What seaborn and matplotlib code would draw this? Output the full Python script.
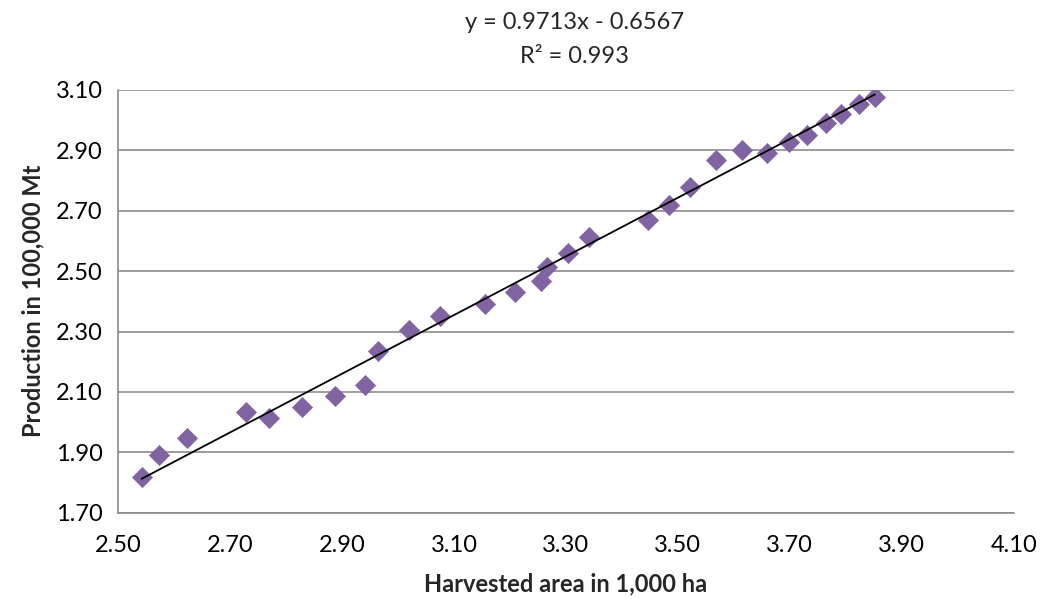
import numpy as np
import pandas as pd
import matplotlib
matplotlib.use("Agg")
import matplotlib.pyplot as plt
import seaborn as sns

# harvested area (1,000 ha) and production (100,000 Mt)
area = [2.542, 2.573, 2.624, 2.728, 2.770, 2.828, 2.888, 2.942, 2.965, 3.020,
        3.075, 3.155, 3.210, 3.255, 3.267, 3.304, 3.342, 3.447, 3.485, 3.521,
        3.568, 3.615, 3.660, 3.698, 3.731, 3.764, 3.791, 3.824, 3.852]
production = [1.819, 1.891, 1.948, 2.034, 2.013, 2.051, 2.086, 2.123, 2.235, 2.305,
              2.351, 2.390, 2.430, 2.467, 2.515, 2.561, 2.614, 2.669, 2.719, 2.779,
              2.868, 2.901, 2.890, 2.928, 2.951, 2.989, 3.019, 3.053, 3.077]

slope = 0.9713
intercept = -0.6567
r_squared = 0.993

x_ticks = [2.50, 2.70, 2.90, 3.10, 3.30, 3.50, 3.70, 3.90, 4.10]
y_ticks = [1.70, 1.90, 2.10, 2.30, 2.50, 2.70, 2.90, 3.10]

df = pd.DataFrame({"area": area, "production": production})
fit = pd.DataFrame({"area": [min(area), max(area)]})
fit["production"] = slope * fit["area"] + intercept

sns.set_style("white")
plt.rcParams['font.family'] = ['Lato', 'DejaVu Sans']

grid_col = "#8c8c8c"
fs = 17
fig = plt.figure(figsize=(10.45, 5.99), dpi=100)
ax = fig.add_axes([0.113, 0.144, 0.857, 0.706])

ax.set_xlim(2.50, 4.10)
ax.set_ylim(1.70, 3.10)
ax.set_xticks(x_ticks)
ax.set_yticks(y_ticks)
ax.set_xticklabels([f"{v:.2f}" for v in x_ticks])
ax.set_yticklabels([f"{v:.2f}" for v in y_ticks])
ax.yaxis.grid(True, color=grid_col, linewidth=1.2)
ax.set_axisbelow(True)

sns.scatterplot(data=df, x="area", y="production", marker="D", s=105,
                color="#8064A2", edgecolor="#8064A2", linewidth=0.5, ax=ax, zorder=3)
sns.lineplot(data=fit, x="area", y="production", color="black", linewidth=1.3,
             ax=ax, zorder=4)

for side in ["top", "right"]:
    ax.spines[side].set_visible(False)
for side in ["left", "bottom"]:
    ax.spines[side].set_color(grid_col)
    ax.spines[side].set_linewidth(1.2)

ax.tick_params(axis="both", direction="out", length=6, width=1.2, color=grid_col,
               labelsize=fs, labelcolor="black", pad=5)
ax.tick_params(axis="x", pad=10)

ax.set_xlabel("Harvested area in 1,000 ha", fontsize=fs, fontweight="bold", labelpad=12)
ax.set_ylabel("Production in 100,000 Mt", fontsize=fs, fontweight="bold", labelpad=8)

fig.text(0.55, 0.962, f"y = {slope}x - {abs(intercept)}", ha="center", va="center", fontsize=fs)
fig.text(0.55, 0.906, f"R² = {r_squared}", ha="center", va="center", fontsize=fs)

fig.savefig("out.png", dpi=100)
